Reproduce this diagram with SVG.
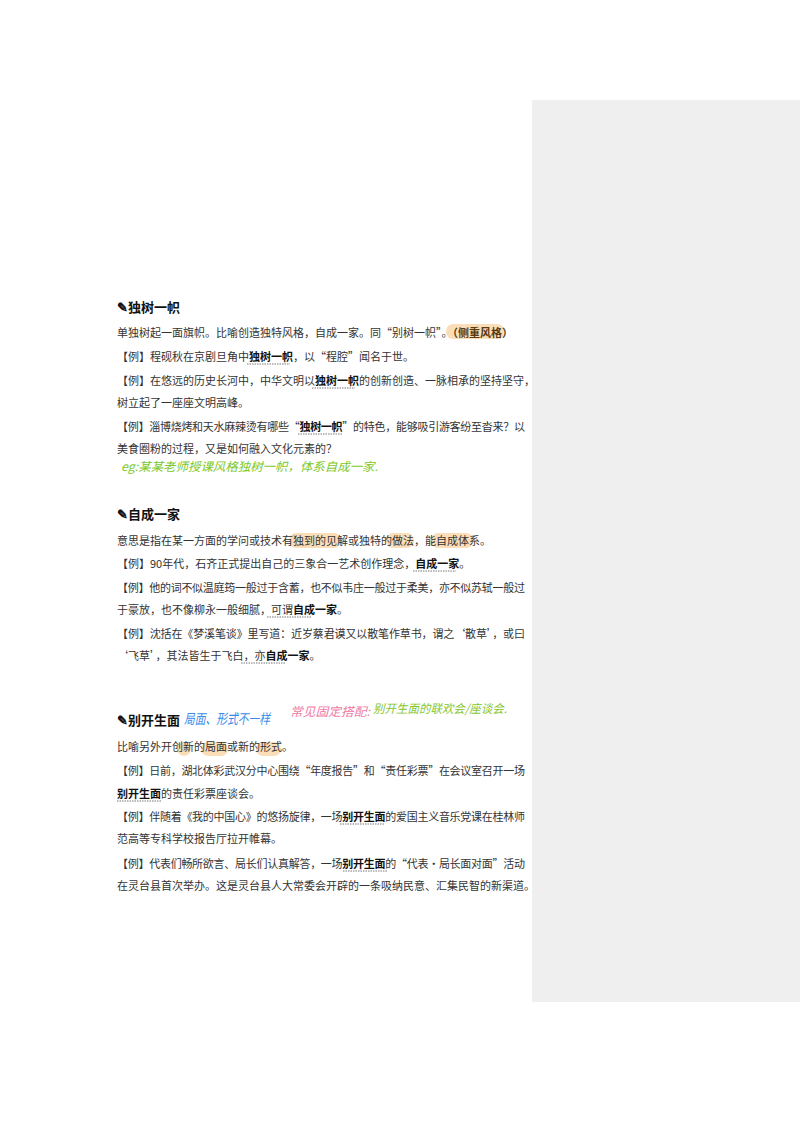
<svg xmlns="http://www.w3.org/2000/svg" width="800" height="1132" viewBox="0 0 800 1132">
<style>
.b{font-family:"Noto Sans CJK SC","Noto Sans",sans-serif;font-size:11px;fill:#333}
.h{font-family:"Noto Sans CJK SC",sans-serif;font-size:13px;font-weight:bold;fill:#111}
.t{font-weight:bold;fill:#111}
.u{stroke:#555;stroke-width:0.8;stroke-dasharray:1.5 1}
.hl{fill:#f9d3a0;opacity:0.75}
.hw{font-family:"Noto Sans CJK SC",sans-serif;font-style:italic}
</style>
<rect x="532" y="100" width="268" height="902" fill="#efefef"/>
<g id="sec1">
<text x="117" y="312" class="h">✎独树一帜</text>
<rect x="446" y="324" width="58" height="15" rx="7" class="hl"/>
<text x="117" y="337" class="b">单独树起一面旗帜。比喻创造独特风格，自成一家。同“别树一帜”。<tspan font-weight="bold" fill="#5a3a10">（侧重风格）</tspan></text>
<text x="117" y="361" class="b">【例】程砚秋在京剧旦角中<tspan class="t">独树一帜</tspan>，以“程腔”闻名于世。</text>
<line x1="247" y1="364" x2="290" y2="364" class="u"/>
<text x="117" y="385" class="b">【例】在悠远的历史长河中，中华文明以<tspan class="t">独树一帜</tspan>的创新创造、一脉相承的坚持坚守，</text>
<line x1="312" y1="388" x2="355" y2="388" class="u"/>
<text x="117" y="407" class="b">树立起了一座座文明高峰。</text>
<text x="117" y="431" class="b" textLength="408">【例】淄博烧烤和天水麻辣烫有哪些“<tspan class="t">独树一帜</tspan>”的特色，能够吸引游客纷至沓来？以</text>
<line x1="298" y1="434" x2="342" y2="434" class="u"/>
<text x="117" y="453" class="b">美食圈粉的过程，又是如何融入文化元素的？</text>
<text x="121" y="471" class="hw" font-size="12" fill="#7dc82a" textLength="257" lengthAdjust="spacingAndGlyphs">eg:某某老师授课风格独树一帜，体系自成一家.</text>
</g>
<g id="sec3">
<text x="117" y="725" class="h">✎别开生面</text>
<text x="184" y="724" class="hw" font-size="14" fill="#3b8bea" textLength="86" lengthAdjust="spacingAndGlyphs">局面、形式不一样</text>
<text x="290" y="716" class="hw" font-size="12" fill="#f07aa8" textLength="80" lengthAdjust="spacingAndGlyphs">常见固定搭配:</text>
<text x="373" y="713" class="hw" font-size="12" fill="#86c62e" textLength="134" lengthAdjust="spacingAndGlyphs">别开生面的联欢会/座谈会.</text>
<rect x="177" y="742" width="14" height="14" rx="7" class="hl"/>
<rect x="201" y="742" width="27" height="14" rx="7" class="hl"/>
<rect x="256" y="742" width="25" height="14" rx="7" class="hl"/>
<text x="117" y="751" class="b">比喻另外开创新的局面或新的形式。</text>
<text x="117" y="775" class="b" textLength="408">【例】日前，湖北体彩武汉分中心围绕“年度报告”和“责任彩票”在会议室召开一场</text>
<text x="117" y="798" class="b"><tspan class="t">别开生面</tspan>的责任彩票座谈会。</text>
<line x1="117" y1="801" x2="161" y2="801" class="u"/>
<text x="117" y="821" class="b" textLength="408">【例】伴随着《我的中国心》的悠扬旋律，一场<tspan class="t">别开生面</tspan>的爱国主义音乐党课在桂林师</text>
<line x1="340" y1="824" x2="384" y2="824" class="u"/>
<text x="117" y="843" class="b">范高等专科学校报告厅拉开帷幕。</text>
<text x="117" y="868" class="b" textLength="408">【例】代表们畅所欲言、局长们认真解答，一场<tspan class="t">别开生面</tspan>的“代表·局长面对面”活动</text>
<line x1="343" y1="871" x2="387" y2="871" class="u"/>
<text x="117" y="890" class="b">在灵台县首次举办。这是灵台县人大常委会开辟的一条吸纳民意、汇集民智的新渠道。</text>
</g>
<g id="sec2">
<text x="117" y="519" class="h">✎自成一家</text>
<rect x="289" y="533" width="52" height="15" rx="7" class="hl"/>
<rect x="386" y="533" width="28" height="15" rx="7" class="hl"/>
<rect x="431" y="533" width="42" height="15" rx="7" class="hl"/>
<text x="117" y="545" class="b">意思是指在某一方面的学问或技术有独到的见解或独特的做法，能自成体系。</text>
<text x="117" y="568" class="b">【例】90年代，石齐正式提出自己的三象合一艺术创作理念，<tspan class="t">自成一家</tspan>。</text>
<line x1="413" y1="571" x2="456" y2="571" class="u"/>
<text x="117" y="592" class="b" textLength="408">【例】他的词不似温庭筠一般过于含蓄，也不似韦庄一般过于柔美，亦不似苏轼一般过</text>
<text x="117" y="614" class="b">于豪放，也不像柳永一般细腻，可谓<tspan class="t">自成一家</tspan>。</text>
<line x1="267" y1="617" x2="311" y2="617" class="u"/>
<text x="117" y="638" class="b" textLength="408">【例】沈括在《梦溪笔谈》里写道：近岁蔡君谟又以散笔作草书，谓之‘散草’，或曰</text>
<text x="117" y="660" class="b">‘飞草’，其法皆生于飞白，亦<tspan class="t">自成一家</tspan>。</text>
<line x1="241" y1="663" x2="285" y2="663" class="u"/>
</g>
</svg>
